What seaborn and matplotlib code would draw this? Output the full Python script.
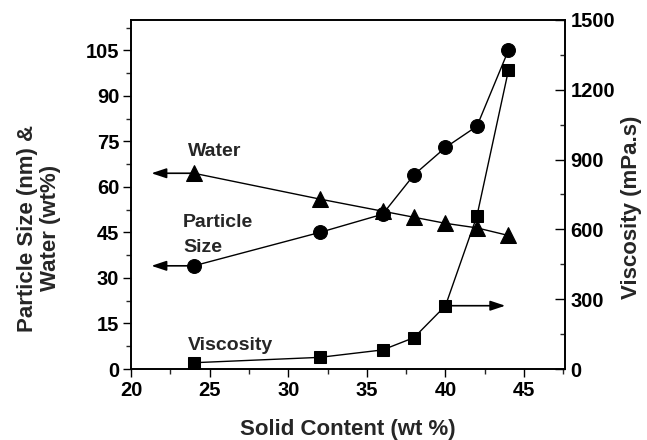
import matplotlib
matplotlib.use("Agg")
import matplotlib.pyplot as plt
import seaborn as sns
import pandas as pd
from matplotlib.ticker import MultipleLocator

solid = [24, 32, 36, 38, 40, 42, 44]
particle_size = [34, 45, 51, 64, 73, 80, 105]
water = [64.5, 56, 52, 50, 48, 46.5, 44]
viscosity = [27, 50, 82, 135, 272, 658, 1283]

x_ticks = [20, 25, 30, 35, 40, 45]
left_ticks = [0, 15, 30, 45, 60, 75, 90, 105]
right_ticks = [0, 300, 600, 900, 1200, 1500]

sns.set_style("ticks")
plt.rcParams['font.family'] = ['Liberation Sans', 'DejaVu Sans']
plt.rcParams['font.weight'] = 'bold'

df = pd.DataFrame({"solid": solid, "size": particle_size,
                   "water": water, "visc": viscosity})

fig = plt.figure(figsize=(6.47, 4.4), dpi=100)
ax = fig.add_axes([131/647, 71/440, 434/647, 349/440])
ax2 = ax.twinx()

kw = dict(color="black", linewidth=1.0, markeredgecolor="black",
          markerfacecolor="black")
sns.lineplot(data=df, x="solid", y="size", ax=ax, marker="o",
             markersize=10, **kw)
sns.lineplot(data=df, x="solid", y="water", ax=ax, marker="^",
             markersize=12, **kw)
sns.lineplot(data=df, x="solid", y="visc", ax=ax2, marker="s",
             markersize=9, **kw)

ax.set_xlim(20, 47.6)
ax.set_ylim(0, 115)
ax2.set_ylim(0, 1500)
ax.set_xticks(x_ticks)
ax.set_yticks(left_ticks)
ax2.set_yticks(right_ticks)
ax.xaxis.set_minor_locator(MultipleLocator(2.5))
ax.yaxis.set_minor_locator(MultipleLocator(7.5))
ax2.yaxis.set_minor_locator(MultipleLocator(150))

for a in (ax, ax2):
    for s in a.spines.values():
        s.set_visible(True)
        s.set_linewidth(1.2)
        s.set_color("black")

ax.tick_params(axis="both", which="major", direction="out", length=6,
               width=1.0, labelsize=14.5, colors="black", pad=2.5)
ax.tick_params(axis="both", which="minor", direction="out", length=3.5,
               width=1.0)
ax2.tick_params(axis="y", which="major", direction="in", length=7,
                width=1.0, labelsize=14.5, colors="black", pad=4)
ax2.tick_params(axis="y", which="minor", direction="in", length=3.5, width=1.0)
for lab in ax.get_xticklabels() + ax.get_yticklabels() + ax2.get_yticklabels():
    lab.set_fontweight("bold")

ax.set_xlabel("Solid Content (wt %)", fontsize=16, fontweight="bold",
              labelpad=14)
ax.set_ylabel("Particle Size (nm) &\nWater (wt%)", fontsize=16,
              fontweight="bold", linespacing=1.15)
ax.yaxis.set_label_coords(-0.161, 0.404)
ax2.set_ylabel("Viscosity (mPa.s)", fontsize=16, fontweight="bold")
ax2.yaxis.set_label_coords(1.129, 0.464)

arrow = dict(arrowstyle="-|>,head_length=0.9,head_width=0.3", color="black",
             lw=1.2, shrinkA=0, shrinkB=0)
ax.annotate("", xy=(21.3, water[0]), xytext=(solid[0], water[0]),
            arrowprops=arrow)
ax.annotate("", xy=(21.3, particle_size[0]), xytext=(solid[0], particle_size[0]),
            arrowprops=arrow)
ax2.annotate("", xy=(43.8, viscosity[4]), xytext=(solid[4], viscosity[4]),
             arrowprops=arrow)

ax.text(23.6, 71.7, "Water", fontsize=14, fontweight="bold", va="center")
ax.text(23.3, 44.1, "Particle\nSize", fontsize=14, fontweight="bold",
        va="center", linespacing=1.57)
ax.text(23.6, 7.9, "Viscosity", fontsize=14, fontweight="bold", va="center")

fig.savefig("out.png", dpi=100)
